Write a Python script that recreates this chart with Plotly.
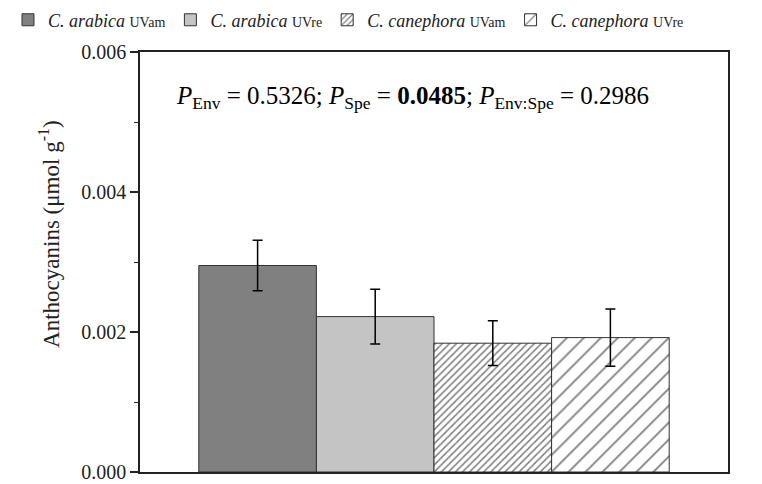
import plotly.graph_objects as go

names = ["<i>C. arabica</i> <span style='font-size:14px'>UVam</span>",
         "<i>C. arabica</i> <span style='font-size:14px'>UVre</span>",
         "<i>C. canephora</i> <span style='font-size:14px'>UVam</span>",
         "<i>C. canephora</i> <span style='font-size:14px'>UVre</span>"]
positions = [1, 2, 3, 4]
values = [0.00295, 0.00222, 0.00184, 0.00192]
errors = [0.00036, 0.00039, 0.00032, 0.00041]

colors = ["#808080", "#c4c4c4", "white", "white"]
patterns = ["", "", "/", "/"]
pattern_sizes = [8, 8, 5, 12]
pattern_solidity = [0.3, 0.3, 0.3, 0.15]

fig = go.Figure()
for i in range(4):
    marker = dict(color=colors[i], line=dict(color="#333333", width=1))
    if patterns[i]:
        marker["pattern"] = dict(shape=patterns[i], size=pattern_sizes[i], solidity=pattern_solidity[i],
                                 fgcolor="#000000", bgcolor="white", fillmode="overlay")
    fig.add_trace(go.Bar(
        x=[positions[i]], y=[values[i]], width=1, name=names[i], marker=marker,
        error_y=dict(type="data", array=[errors[i]], color="black", thickness=1.5, width=5),
    ))

fig.add_annotation(
    text="<i>P</i><sub>Env</sub> = 0.5326; <i>P</i><sub>Spe</sub> = <b>0.0485</b>; <i>P</i><sub>Env:Spe</sub> = 0.2986",
    x=0.464, y=0.934, xref="paper", yref="paper", showarrow=False,
    font=dict(family="Liberation Serif", size=25, color="black"))

# y-axis title (placed as annotation to match the reference's off-centre position)
fig.add_annotation(
    text="Anthocyanins (μmol g<sup>-1</sup>)", textangle=-90,
    x=-0.153, y=0.567, xref="paper", yref="paper", xanchor="center", yanchor="middle",
    showarrow=False,
    font=dict(family="Liberation Serif", size=23, color="#222222"))

fig.update_layout(
    width=762, height=484,
    margin=dict(l=132, r=42, t=44, b=20, autoexpand=False),
    paper_bgcolor="white", plot_bgcolor="white",
    font=dict(family="Liberation Serif", color="#222222", size=16),
    showlegend=True,
    legend=dict(orientation="h", x=-0.2245, y=1.076, xanchor="left", yanchor="middle",
                font=dict(family="Liberation Serif", size=18, color="#222222"),
                bgcolor="rgba(0,0,0,0)",
                traceorder="normal", itemwidth=30, tracegroupgap=0),
    barmode="overlay",
    xaxis=dict(range=[0, 5], showticklabels=False, ticks="", showgrid=False, zeroline=False,
               showline=True, linecolor="#222222", linewidth=1.5, mirror=True),
    yaxis=dict(range=[0, 0.006], dtick=0.002, tickformat=".3f", ticks="outside", ticklen=8,
               tickwidth=1.5, tickcolor="#222222",
               minor=dict(dtick=0.001, ticks="outside", ticklen=4, tickwidth=1.2, tickcolor="#222222"),
               showgrid=False, zeroline=False, showline=True, linecolor="#222222", linewidth=1.5,
               mirror=True, tickfont=dict(size=20)),
)

fig.write_html("out.html")
